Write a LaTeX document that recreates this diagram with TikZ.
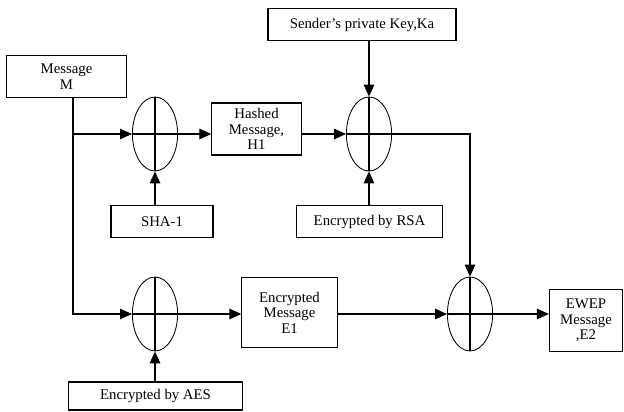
\documentclass[tikz,border=0pt]{standalone}
\usepackage{fontspec}
\setmainfont{Liberation Serif}
\usepackage{tikz}
\usetikzlibrary{positioning, arrows.meta, shapes.geometric}
\tikzset{arco/.style={line width=0.8pt, -{Triangle[length=8.5pt,width=7.5pt]}}}
\tikzset{caja/.style={draw, rectangle, line width=0.8pt, align=center, inner sep=1pt,
        font=\fontsize{10.5}{11}\selectfont}}
\tikzset{xorop/.style={draw, ellipse, line width=0.6pt, inner sep=0pt,
        minimum width=1.13cm, minimum height=1.85cm}}

\begin{document}
\begin{tikzpicture}[
            x = 0.025cm, y = -0.025cm
        ]
            \useasboundingbox (0,0) rectangle (624,412);

            % boxes
            \node[caja, minimum width=2.98cm, minimum height=1.03cm] (msg) at (66.5,76.5) {Message\\M};
            \node[caja, minimum width=2.23cm, minimum height=1.3cm] (hash) at (256.5,129) {Hashed\\Message,\\H1};
            \node[caja, minimum width=4.7cm, minimum height=0.78cm] (key) at (362,24.5) {Sender’s private Key,Ka};
            \node[caja, minimum width=3.63cm, minimum height=0.78cm] (rsa) at (369.5,221.5) {Encrypted by RSA};
            \node[caja, minimum width=2.55cm, minimum height=0.78cm] (sha) at (162,221.5) {SHA-1};
            \node[caja, minimum width=2.38cm, minimum height=1.73cm] (e1) at (289.5,312.5) {Encrypted\\Message\\E1};
            \node[caja, minimum width=4.33cm, minimum height=0.7cm] (aes) at (155.5,396) {Encrypted by AES};
            \node[caja, minimum width=1.83cm, minimum height=1.53cm] (ewep) at (586,320.5) {EWEP\\Message\\,E2};

            % xor ellipses
            \node[xorop] (x1) at (155,134) {};
            \node[xorop] (x2) at (369,134) {};
            \node[xorop] (x3) at (155,314) {};
            \node[xorop] (x4) at (470,314) {};
            \foreach \n in {x1,x2,x3,x4} {
                \draw[line width=0.8pt] (\n.north) -- (\n.south);
                \draw[line width=0.8pt] (\n.west) -- (\n.east);
            }

            \coordinate (split) at (73,314);

            \draw[arco] (msg.south -| split) |- (x3.west);
            \draw[arco] (x1.west -| split) -- (x1.west);
            \draw[arco] (sha.north -| x1.south) -- (x1.south);
            \draw[arco] (x1.east) -- (x1.east -| hash.west);
            \draw[arco] (x2.west -| hash.east) -- (x2.west);
            \draw[arco] (key.south -| x2.north) -- (x2.north);
            \draw[arco] (rsa.north -| x2.south) -- (x2.south);
            \draw[arco] (x2.east) -| (x4.north);
            \draw[arco] (aes.north -| x3.south) -- (x3.south);
            \draw[arco] (x3.east) -- (x3.east -| e1.west);
            \draw[arco] (x4.west -| e1.east) -- (x4.west);
            \draw[arco] (x4.east) -- (x4.east -| ewep.west);
        \end{tikzpicture}
\end{document}
